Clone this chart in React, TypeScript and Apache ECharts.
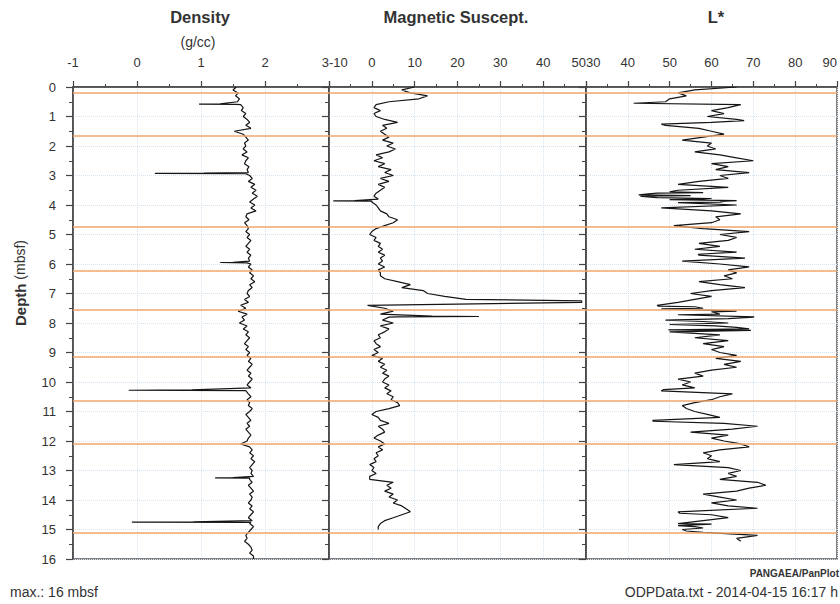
import React, { useEffect, useRef } from "react";
import * as echarts from "echarts";

const DEPTH_STEP = 0.1;

// Density (g/cc), sampled every 0.1 m from 0 to 16 m
const densityValues: number[] = [
  1.55, 1.50, 1.58, 1.54, 1.60, 1.57, 1.62, 1.66, 1.63, 1.70,
  1.66, 1.72, 1.76, 1.70, 1.78, 1.52, 1.66, 1.70, 1.74, 1.68,
  1.70, 1.66, 1.72, 1.64, 1.74, 1.70, 1.68, 1.75, 1.72, 1.74,
  1.76, 1.80, 1.74, 1.84, 1.78, 1.86, 1.80, 1.88, 1.82, 1.76,
  1.84, 1.78, 1.86, 1.72, 1.70, 1.75, 1.68, 1.72, 1.74, 1.70,
  1.76, 1.72, 1.78, 1.74, 1.70, 1.76, 1.72, 1.78, 1.74, 1.76,
  1.78, 1.74, 1.80, 1.76, 1.82, 1.78, 1.84, 1.76, 1.80, 1.74,
  1.72, 1.76, 1.68, 1.74, 1.62, 1.70, 1.58, 1.72, 1.64, 1.68,
  1.60, 1.72, 1.66, 1.74, 1.70, 1.76, 1.72, 1.68, 1.74, 1.70,
  1.76, 1.72, 1.78, 1.74, 1.80, 1.76, 1.72, 1.78, 1.74, 1.80,
  1.76, 1.72, 1.78, 1.70, 1.74, 1.78, 1.72, 1.76, 1.74, 1.80,
  1.76, 1.70, 1.74, 1.78, 1.72, 1.76, 1.70, 1.74, 1.78, 1.74,
  1.72, 1.62, 1.76, 1.80, 1.76, 1.82, 1.78, 1.84, 1.80, 1.76,
  1.80, 1.78, 1.82, 1.76, 1.80, 1.74, 1.78, 1.82, 1.76, 1.80,
  1.78, 1.74, 1.80, 1.76, 1.82, 1.78, 1.74, 1.80, 1.76, 1.82,
  1.78, 1.74, 1.70, 1.72, 1.68, 1.74, 1.78, 1.80, 1.76, 1.82,
  1.82,
];
// [depth, density] spike readings
const densitySpikes: [number, number][] = [
  [0.57, 1.30], [0.58, 0.97], [0.59, 1.55],
  [2.92, 1.04], [2.93, 0.28], [2.94, 1.70],
  [5.94, 1.50], [5.95, 1.30], [5.96, 1.72],
  [10.27, 0.86], [10.28, -0.13], [10.29, 1.70],
  [13.24, 1.50], [13.25, 1.22], [13.26, 1.76],
  [14.74, 0.88], [14.75, -0.08], [14.76, 1.78],
];

// Magnetic susceptibility, every 0.1 m from 0 to 15 m
const magValues: number[] = [
  10, 7, 9, 13, 11, 4, 1, 0.5, 2, 0.5,
  1, 3, 6, 2.5, 3.5, 2, 3, 4, 2.5, 5,
  3.5, 5.5, 4, 1, 2.5, 0.5, 3, 1.5, 4.5, 3,
  5, 2, 4, 1.5, 3, 2, 1, 0.5, 1.5, 0,
  1, 1.5, 2, 3.5, 4, 6, 5, 3, 1, 0,
  -0.5, 1, 0.5, 2, 1.5, 2.5, 1.5, 3, 2, 2.5,
  1.5, 3, 1.5, 2, 2, 3, 6, 9, 7, 12,
  13, 17, 22, 49, -1, 3, 5, 2, 4, 2.5,
  5, 2, 4, 3, 1.5, 2, 0.5, 1, 2, 0.5,
  1.5, 0, 2.5, 1.5, 3, 2, 3.5, 2.5, 4, 3,
  2.5, 4, 3, 4.5, 3.5, 5, 4.5, 6, 6.5, 4,
  1, 0, 1.5, 2, 4, 1.5, 2.5, 3, 1.5, 0.5,
  2, 3, 1.5, 2.5, 1, 1.5, 0.5, 1, -0.5, 0.5,
  0, 1, -0.5, -0.5, 5, 3.5, 4.5, 3, 5, 4,
  6, 5, 7, 8, 9, 7, 5, 3, 2, 1.5,
  1.5,
];
const magSpikes: [number, number][] = [
  [3.85, -4], [3.86, -9], [3.87, 0],
  [7.25, 49], [7.36, 20],
  [7.77, 14], [7.78, 25], [7.79, 6],
];

// L*, every 0.1 m from 0 to 15.4 m
const lstarValues: number[] = [
  66, 56, 52, 54, 50, 49, 67, 64, 60, 63,
  59, 66, 60, 49, 57, 60, 63, 58, 53, 60,
  59, 61, 56, 62, 66, 70, 60, 64, 61, 69,
  62, 64, 57, 52, 64, 52, 47, 43, 58, 62,
  66, 48, 60, 67, 61, 62, 60, 51, 58, 69,
  62, 66, 64, 57, 62, 56, 66, 57, 68, 53,
  62, 69, 64, 66, 63, 65, 57, 62, 68, 60,
  55, 60, 56, 52, 47, 58, 66, 62, 70, 49,
  64, 61, 69, 50, 62, 56, 64, 58, 63, 60,
  62, 66, 61, 67, 63, 66, 60, 56, 58, 52,
  55, 53, 56, 48, 65, 62, 60, 56, 53, 54,
  56, 59, 62, 46, 63, 71, 65, 55, 64, 60,
  63, 67, 69, 62, 58, 60, 59, 62, 51, 64,
  67, 64, 66, 62, 71, 73, 69, 66, 58, 62,
  66, 60, 64, 71, 52, 60, 64, 58, 52, 56,
  53, 58, 71, 66, 67,
];
const lstarSpikes: [number, number][] = [
  [0.55, 41.4], [1.14, 67.8], [1.26, 48],
  [3.55, 50], [3.58, 58], [3.62, 45], [3.66, 42.6], [3.68, 55], [3.72, 44],
  [3.75, 47], [3.78, 60], [3.82, 50], [3.85, 66], [3.88, 63], [3.92, 52],
  [5.67, 56.8],
  [7.43, 47.3], [7.45, 56], [7.52, 48], [7.62, 60], [7.72, 52], [7.79, 70.2],
  [7.85, 64], [7.95, 58], [8.05, 50], [8.15, 66], [8.23, 49.7], [8.25, 69.4],
  [10.26, 48.5], [11.33, 46], [12.81, 51], [14.28, 71], [14.45, 52.4],
  [14.82, 60], [14.87, 52], [14.95, 58], [15.05, 54],
];

// Core section boundaries (orange lines), depth in mbsf
const sectionDepths: number[] = [0.2, 1.66, 4.73, 6.24, 7.55, 9.13, 10.64, 12.1, 15.1];

const depthTicks = { min: 0, max: 16, interval: 1 };

function buildSeries(values: number[], spikes: [number, number][]) {
  const pts: number[][] = values.map((v, i) => [v, Math.round(i * DEPTH_STEP * 100) / 100]);
  spikes.forEach(([d, v]) => pts.push([v, d]));
  pts.sort((a, b) => a[1] - b[1]);
  return pts;
}

const FONT = "'Liberation Sans', Arial, sans-serif";
const AXIS_COLOR = "#444";
const GRID_LINE = "#d6e4f2";
const ORANGE = "#f2a66a";

export default function App() {
  const ref = useRef<HTMLDivElement>(null);

  useEffect(() => {
    document.body.style.margin = "0";
    if (!ref.current) return;
    const chart = echarts.init(ref.current, undefined, { renderer: "svg" });

    const grids = [
      { left: 73, top: 87, width: 256, height: 472 },
      { left: 329, top: 87, width: 257, height: 472 },
      { left: 586, top: 87, width: 254, height: 472 },
    ].map((g) => ({
      ...g,
      show: true,
      borderColor: "#555",
      borderWidth: 1.5,
      backgroundColor: "transparent",
    }));

    const xDefs = [
      { min: -1, max: 3, interval: 1, alignMin: "center", alignMax: "right" },
      { min: -10, max: 50, interval: 10, alignMin: "left", alignMax: "right" },
      { min: 30, max: 90, interval: 10, alignMin: "left", alignMax: "right" },
    ];

    const xAxes = xDefs.map((d, i) => ({
      type: "value",
      gridIndex: i,
      position: "top",
      min: d.min,
      max: d.max,
      interval: d.interval,
      axisLine: { show: true, onZero: false, lineStyle: { color: AXIS_COLOR, width: 1.5 } },
      axisTick: { show: true, length: 6, lineStyle: { color: AXIS_COLOR, width: 1.2 } },
      minorTick: { show: true, splitNumber: 2, length: 3, lineStyle: { color: AXIS_COLOR } },
      splitLine: { show: true, lineStyle: { color: GRID_LINE, type: "dotted", width: 1 } },
      axisLabel: {
        show: true,
        color: "#333",
        fontSize: 13,
        fontFamily: FONT,
        margin: 18,
        alignMinLabel: d.alignMin,
        alignMaxLabel: d.alignMax,
      },
    }));

    const yAxes = [0, 1, 2].map((i) => ({
      type: "value",
      gridIndex: i,
      inverse: true,
      min: depthTicks.min,
      max: depthTicks.max,
      interval: depthTicks.interval,
      axisLine: { show: true, onZero: false, lineStyle: { color: AXIS_COLOR, width: 1.5 } },
      axisTick: { show: true, length: 7, lineStyle: { color: AXIS_COLOR, width: 1.2 } },
      minorTick: { show: true, splitNumber: 2, length: 4, lineStyle: { color: AXIS_COLOR } },
      splitLine: { show: true, lineStyle: { color: GRID_LINE, type: "dotted", width: 1 } },
      axisLabel: {
        show: i === 0,
        color: "#333",
        fontSize: 13,
        fontFamily: FONT,
        margin: 17,
      },
    }));

    const markLine = {
      silent: true,
      symbol: ["none", "none"],
      label: { show: false },
      lineStyle: { color: ORANGE, width: 1.5, type: "solid" },
      data: sectionDepths.map((d) => ({ yAxis: d })),
    };

    const seriesData = [
      buildSeries(densityValues, densitySpikes),
      buildSeries(magValues, magSpikes),
      buildSeries(lstarValues, lstarSpikes),
    ];

    const series = seriesData.map((data, i) => ({
      type: "line",
      xAxisIndex: i,
      yAxisIndex: i,
      data,
      showSymbol: false,
      symbol: "none",
      lineStyle: { color: "#151515", width: 1.2 },
      markLine,
      z: 3,
    }));

    const titleStyle = (text: string, x: number, y: number, size = 16.5, bold = true) => ({
      type: "text",
      x,
      y,
      style: {
        text,
        fontSize: size,
        fontWeight: bold ? "bold" : "normal",
        fontFamily: FONT,
        fill: "#333",
        align: "center",
        verticalAlign: "middle",
      },
    });

    chart.setOption({
      animation: false,
      backgroundColor: "#fff",
      grid: grids,
      xAxis: xAxes,
      yAxis: yAxes,
      series,
      graphic: [
        titleStyle("Density", 200, 17),
        titleStyle("(g/cc)", 198, 42, 14, false),
        titleStyle("Magnetic Suscept.", 456, 17),
        titleStyle("L*", 716, 17),
        {
          type: "text",
          x: 20,
          y: 283,
          rotation: Math.PI / 2,
          style: {
            text: "{b|Depth} (mbsf)",
            fontSize: 14,
            fontFamily: FONT,
            fill: "#333",
            align: "center",
            verticalAlign: "middle",
            rich: { b: { fontWeight: "bold", fontSize: 15, fontFamily: FONT, fill: "#333" } },
          },
        },
        {
          type: "text",
          x: 10,
          y: 592,
          style: {
            text: "max.: 16 mbsf",
            fontSize: 14,
            fontFamily: FONT,
            fill: "#333",
            align: "left",
            verticalAlign: "middle",
          },
        },
        {
          type: "text",
          x: 839,
          y: 573,
          style: {
            text: "PANGAEA/PanPlot",
            fontSize: 10,
            fontWeight: "bold",
            fontFamily: FONT,
            fill: "#333",
            align: "right",
            verticalAlign: "middle",
          },
        },
        {
          type: "text",
          x: 838,
          y: 592,
          style: {
            text: "ODPData.txt - 2014-04-15 16:17 h",
            fontSize: 14,
            fontFamily: FONT,
            fill: "#333",
            align: "right",
            verticalAlign: "middle",
          },
        },
      ],
    });

    return () => chart.dispose();
  }, []);

  return <div ref={ref} style={{ width: 840, height: 604 }} />;
}
